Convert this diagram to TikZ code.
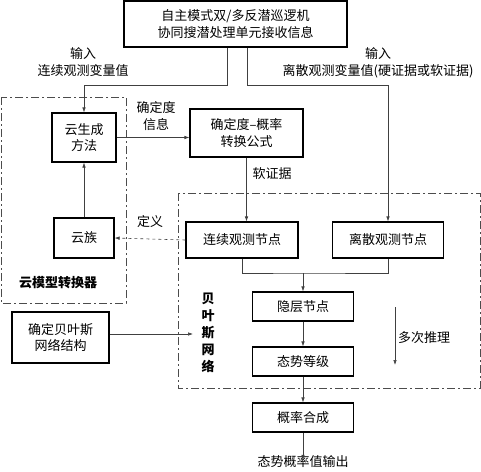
\documentclass[tikz,border=0pt]{standalone}
\usepackage{fontspec}
\setmainfont{Noto Sans CJK SC}
\usetikzlibrary{arrows.meta}
\begin{document}
\begin{tikzpicture}[x=1pt,y=-1pt,
  box/.style={draw=black,line width=1.1pt,inner sep=0pt,align=center,font=\fontsize{13}{16.5}\selectfont},
  lbl/.style={inner sep=0pt,align=center,font=\fontsize{13}{17}\selectfont},
  conn/.style={draw=black!75,line width=0.6pt},
  arr/.style={conn,-{Latex[length=5pt,width=3.5pt]}},
  dd/.style={draw=black!70,line width=0.7pt,dash pattern=on 8pt off 3pt on 2pt off 3pt}]
\useasboundingbox (0,0) rectangle (481,471);
% group frames
\draw[dd] (1,97) rectangle (126,303);
\draw[dd] (178,193) rectangle (480,388);
% nodes
\node[box,minimum width=223,minimum height=46] (top) at (235.5,24) {自主模式双/多反潜巡逻机\\协同搜潜处理单元接收信息};
\node[box,minimum width=64,minimum height=49] (gen) at (84,137.5) {云生成\\方法};
\node[box,minimum width=113,minimum height=48] (conv) at (246.5,133) {确定度–概率\\转换公式};
\node[box,minimum width=60,minimum height=40] (fam) at (84,238) {云族};
\node[box,minimum width=112,minimum height=36] (cont) at (242,240) {连续观测节点};
\node[box,minimum width=111,minimum height=36] (disc) at (388,240) {离散观测节点};
\node[box,minimum width=101,minimum height=29] (hid) at (303,306.5) {隐层节点};
\node[box,minimum width=101,minimum height=29] (state) at (303,361.5) {态势等级};
\node[box,minimum width=101,minimum height=29] (prob) at (303,417.5) {概率合成};
\node[box,minimum width=97,minimum height=51] (bn) at (60.5,337.5) {确定贝叶斯\\网络结构};
\node[lbl] (out) at (303,462) {态势概率值输出};
% labels
\node[lbl] (l1) at (83,62.5) {输入\\连续观测变量值};
\node[lbl] (l2) at (378,62.5) {输入\\离散观测变量值(硬证据或软证据)};
\node[lbl] (l3) at (156,116.5) {确定度\\信息};
\node[lbl] (l4) at (272,174) {软证据};
\node[lbl] (l5) at (150,222) {定义};
\node[lbl,font=\fontsize{13}{16}\selectfont\bfseries] (l6) at (58,283) {云模型转换器};
\node[lbl,font=\fontsize{13}{17}\selectfont\bfseries] (l7) at (208,333) {贝\\叶\\斯\\网\\络};
\node[lbl,anchor=west] (l8) at (398,338) {多次推理};
% coordinates
\coordinate (merge) at (303,273);
\coordinate (bnend) at (193,334);
\coordinate (itA) at (395,307);
\coordinate (itB) at (395,365);
% connectors
\draw[arr] ([xshift=-8.5pt]top.south) -- ++(0,38) -| (gen.north);
\draw[arr] ([xshift=11.5pt]top.south) -- ++(0,38) -| (disc.north);
\draw[arr] (gen.east) -- (gen.east -| conv.west);
\draw[arr] (conv.south) -- (conv.south |- cont.north);
\draw[arr] (fam.north) -- (gen.south);
\draw[arr,dashed] (cont.west) -- (fam.east);
\draw[conn] (cont.south) |- (merge) -| (disc.south);
\draw[arr] (merge) -- (hid.north);
\draw[arr] (hid.south) -- (state.north);
\draw[arr] (state.south) -- (prob.north);
\draw[arr] (prob.south) -- ([yshift=-4pt]out.north);
\draw[arr] (itA) -- (itB);
\draw[arr] (bn.east |- bnend) -- (bnend);
\end{tikzpicture}
\end{document}
